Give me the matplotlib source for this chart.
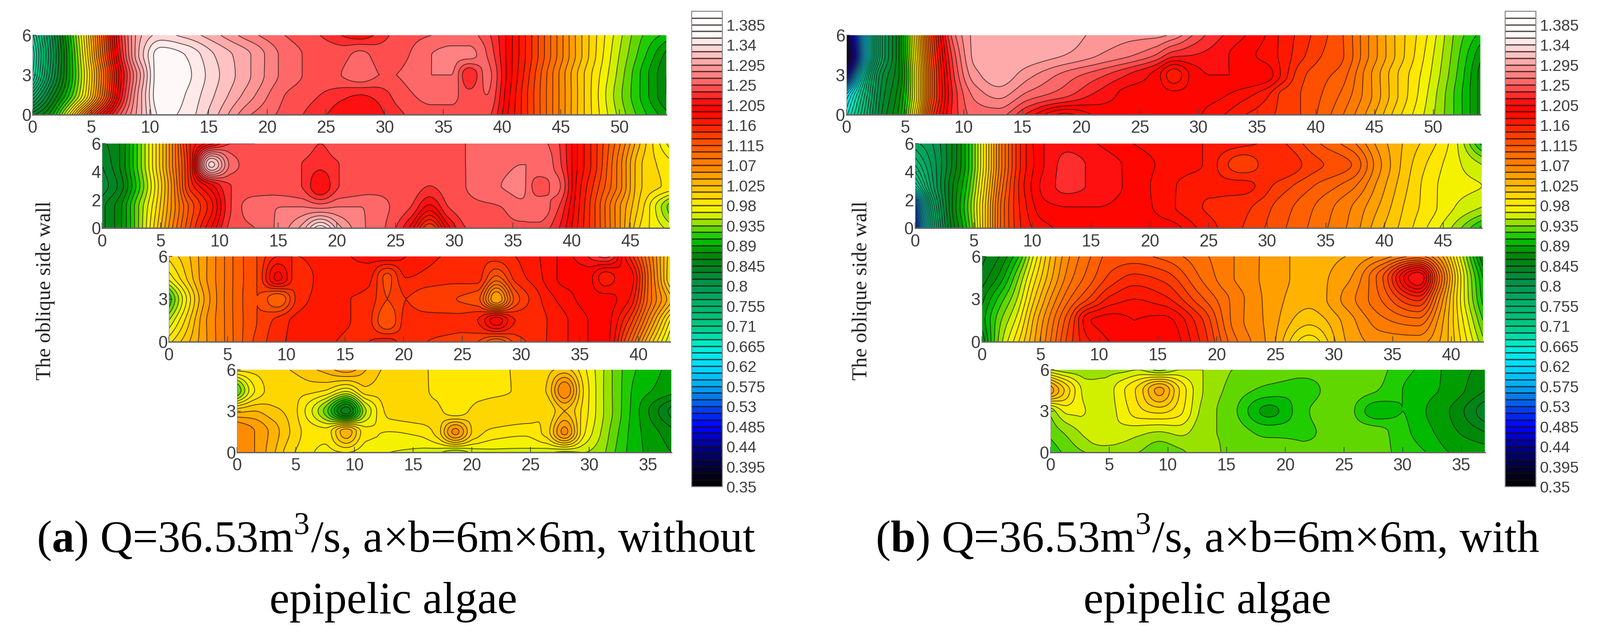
import numpy as np
import matplotlib
matplotlib.use('Agg')
import matplotlib.pyplot as plt
from matplotlib.colors import LinearSegmentedColormap

W, H = 3544, 1411

plt.rcParams['mathtext.fontset'] = 'custom'
plt.rcParams['mathtext.rm'] = 'Liberation Serif'
plt.rcParams['mathtext.bf'] = 'Liberation Serif:bold'

# stations across the channel, top of picture first
y_st = [6, 4.5, 3, 1.5, 0]

# stations along the walls, closer together where the rings are narrow
x_r1 = [0, 1.5, 3, 4.5, 6, 7.5, 9.3, 11, 13, 15.5, 18.6, 21.5, 24.5, 26.3, 27.9, 29.5, 31, 34, 35.7, 37.2, 38.7, 40.5, 42, 44.5, 47, 49.5, 52, 54]
x_a2 = [0, 1.5, 3, 4.5, 6, 7.5, 9.3, 11, 13, 15.5, 17, 18.6, 20.2, 22, 24.5, 26.3, 27.9, 29.5, 31, 34, 35.7, 37.2, 38.7, 40.5, 42, 44, 46, 48.3]
x_a3 = [0, 1.5, 3, 4.5, 6, 7.5, 9.3, 11, 13, 15.5, 17, 18.6, 20.2, 22, 24.5, 26.3, 27.9, 29.5, 31, 34, 35.7, 37.2, 39, 41, 42.7]
x_a4 = [0, 1.5, 3, 4.5, 6, 7.5, 9.3, 11, 13, 15.5, 17, 18.6, 20.2, 22, 24.5, 26.3, 27.9, 29.5, 31, 32.5, 34, 37]
x_b2 = [0, 1.5, 3, 4.5, 6, 7.5, 9.3, 11, 13, 15.5, 18.6, 21.5, 24.5, 27.9, 31, 34, 37.2, 39.5, 42, 44, 46, 48.3]
x_b3 = [0, 1.5, 3, 4.5, 6, 7.5, 9.3, 11, 13, 15.5, 18.6, 21.5, 24.5, 27.9, 31, 34, 37.2, 39, 41, 42.7]
x_b4 = [0, 1.5, 3, 4.5, 6, 7.5, 9.3, 11, 13, 15.5, 18.6, 21.5, 24.5, 27.9, 30, 32, 34, 37]

# (a) without epipelic algae
a1 = [
    [.69, .79, .89, .99, 1.11, 1.23, 1.31, 1.33, 1.32, 1.30, 1.27, 1.25, 1.235, 1.22, 1.21, 1.225, 1.24, 1.25, 1.255, 1.255, 1.24, 1.20, 1.16, 1.09, 1.02, .965, .92, .90],
    [.67, .78, .88, .98, 1.10, 1.22, 1.32, 1.365, 1.355, 1.325, 1.295, 1.26, 1.245, 1.245, 1.255, 1.245, 1.245, 1.265, 1.27, 1.27, 1.25, 1.20, 1.16, 1.09, 1.02, .96, .91, .87],
    [.68, .79, .88, .97, 1.08, 1.20, 1.30, 1.37, 1.36, 1.33, 1.295, 1.26, 1.245, 1.25, 1.26, 1.25, 1.25, 1.265, 1.265, 1.22, 1.255, 1.20, 1.155, 1.08, 1.01, .955, .90, .86],
    [.75, .83, .90, .98, 1.09, 1.21, 1.31, 1.37, 1.355, 1.325, 1.285, 1.25, 1.235, 1.225, 1.22, 1.225, 1.24, 1.255, 1.255, 1.24, 1.25, 1.195, 1.15, 1.08, 1.01, .95, .90, .86],
    [.84, .88, .97, 1.08, 1.18, 1.25, 1.31, 1.36, 1.35, 1.315, 1.265, 1.245, 1.225, 1.21, 1.205, 1.215, 1.23, 1.245, 1.245, 1.245, 1.24, 1.19, 1.15, 1.08, 1.01, .955, .91, .88],
]
a2 = [
    [.84, .86, .92, .99, 1.07, 1.16, 1.20, 1.235, 1.235, 1.245, 1.245, 1.235, 1.245, 1.245, 1.25, 1.25, 1.25, 1.25, 1.25, 1.255, 1.255, 1.255, 1.24, 1.19, 1.15, 1.09, 1.02, .96],
    [.83, .86, .92, .99, 1.07, 1.16, 1.33, 1.26, 1.24, 1.24, 1.235, 1.225, 1.235, 1.24, 1.245, 1.25, 1.25, 1.25, 1.25, 1.26, 1.265, 1.265, 1.245, 1.19, 1.15, 1.08, 1.01, .985],
    [.82, .85, .91, .98, 1.06, 1.15, 1.20, 1.235, 1.24, 1.24, 1.235, 1.205, 1.235, 1.24, 1.245, 1.245, 1.235, 1.245, 1.25, 1.265, 1.27, 1.24, 1.255, 1.185, 1.14, 1.08, 1.01, .99],
    [.84, .87, .93, .99, 1.06, 1.12, 1.17, 1.235, 1.26, 1.265, 1.265, 1.26, 1.265, 1.265, 1.25, 1.235, 1.20, 1.235, 1.245, 1.25, 1.26, 1.26, 1.24, 1.18, 1.13, 1.06, 1.00, .93],
    [.84, .87, .93, 1.00, 1.07, 1.13, 1.19, 1.24, 1.25, 1.275, 1.30, 1.35, 1.30, 1.27, 1.245, 1.20, 1.13, 1.20, 1.235, 1.245, 1.245, 1.245, 1.225, 1.175, 1.13, 1.06, .99, .96],
]
a3 = [
    [1.00, 1.02, 1.05, 1.08, 1.11, 1.13, 1.16, 1.16, 1.17, 1.175, 1.18, 1.19, 1.175, 1.165, 1.155, 1.15, 1.155, 1.16, 1.17, 1.20, 1.22, 1.24, 1.17, 1.08, 1.00],
    [.97, 1.01, 1.05, 1.08, 1.11, 1.13, 1.195, 1.15, 1.165, 1.17, 1.165, 1.125, 1.16, 1.155, 1.15, 1.15, 1.11, 1.15, 1.165, 1.195, 1.195, 1.165, 1.19, 1.09, .995],
    [.91, .98, 1.04, 1.08, 1.11, 1.13, 1.10, 1.15, 1.165, 1.16, 1.155, 1.13, 1.145, 1.135, 1.13, 1.12, 1.04, 1.12, 1.15, 1.185, 1.195, 1.195, 1.18, 1.09, 1.03],
    [.95, 1.00, 1.05, 1.08, 1.11, 1.13, 1.15, 1.165, 1.17, 1.16, 1.15, 1.115, 1.15, 1.15, 1.15, 1.16, 1.20, 1.16, 1.155, 1.175, 1.19, 1.195, 1.15, 1.06, .98],
    [.99, 1.02, 1.05, 1.08, 1.11, 1.135, 1.155, 1.165, 1.165, 1.155, 1.16, 1.17, 1.15, 1.145, 1.14, 1.13, 1.10, 1.135, 1.15, 1.175, 1.19, 1.195, 1.12, 1.02, .95],
]
a4 = [
    [1.00, 1.00, 1.005, 1.01, 1.02, 1.03, 1.05, 1.025, 1.005, 1.00, .99, .985, .985, .99, 1.00, 1.005, 1.015, .985, .955, .925, .905, .885],
    [.92, .98, 1.00, 1.00, 1.00, .995, .97, 1.005, 1.00, 1.00, .99, .985, .985, .99, 1.00, 1.01, 1.07, .995, .955, .925, .90, .88],
    [1.02, 1.025, 1.015, 1.005, .975, .93, .85, .95, 1.00, 1.005, 1.00, .985, 1.00, 1.01, 1.005, .995, 1.025, .99, .955, .925, .895, .84],
    [1.07, 1.055, 1.035, 1.01, .99, .985, 1.035, .985, .98, .985, 1.00, 1.06, 1.005, .99, .985, 1.00, 1.06, .985, .95, .92, .895, .865],
    [1.07, 1.055, 1.03, 1.00, .985, .975, .98, .97, .965, .96, .955, .935, .955, .96, .96, .955, .945, .95, .94, .915, .895, .875],
]

# (b) with epipelic algae
b1 = [
    [.40, .60, .78, .86, 1.00, 1.15, 1.265, 1.30, 1.31, 1.31, 1.305, 1.29, 1.285, 1.285, 1.275, 1.25, 1.23, 1.205, 1.19, 1.17, 1.155, 1.135, 1.12, 1.07, 1.02, .98, .93, .90],
    [.36, .60, .78, .86, .99, 1.14, 1.25, 1.30, 1.31, 1.305, 1.295, 1.28, 1.265, 1.25, 1.225, 1.22, 1.215, 1.195, 1.185, 1.17, 1.15, 1.13, 1.12, 1.07, 1.02, .975, .925, .88],
    [.47, .68, .81, .86, .98, 1.13, 1.24, 1.29, 1.305, 1.285, 1.26, 1.24, 1.215, 1.20, 1.165, 1.195, 1.205, 1.205, 1.20, 1.17, 1.135, 1.12, 1.11, 1.06, 1.01, .97, .92, .87],
    [.62, .72, .82, .87, .98, 1.13, 1.23, 1.27, 1.285, 1.26, 1.24, 1.215, 1.20, 1.20, 1.195, 1.195, 1.195, 1.18, 1.165, 1.14, 1.13, 1.115, 1.10, 1.06, 1.01, .965, .915, .87],
    [.66, .74, .83, .88, 1.00, 1.15, 1.23, 1.255, 1.255, 1.215, 1.17, 1.195, 1.205, 1.205, 1.205, 1.195, 1.185, 1.16, 1.15, 1.14, 1.13, 1.11, 1.09, 1.05, 1.00, .96, .915, .87],
]
b2 = [
    [.78, .80, .84, .90, .99, 1.09, 1.17, 1.205, 1.215, 1.205, 1.19, 1.18, 1.175, 1.165, 1.15, 1.12, 1.09, 1.05, 1.02, 1.00, .97, .90],
    [.74, .79, .84, .90, .99, 1.09, 1.17, 1.205, 1.225, 1.215, 1.20, 1.185, 1.175, 1.135, 1.16, 1.135, 1.115, 1.06, 1.015, .99, .97, .95],
    [.68, .78, .85, .91, 1.00, 1.10, 1.175, 1.21, 1.225, 1.215, 1.20, 1.18, 1.165, 1.165, 1.14, 1.115, 1.09, 1.05, 1.01, .985, .97, .965],
    [.52, .74, .85, .92, 1.01, 1.11, 1.17, 1.20, 1.205, 1.205, 1.20, 1.18, 1.16, 1.15, 1.125, 1.10, 1.07, 1.04, 1.005, .985, .965, .95],
    [.50, .72, .84, .91, 1.01, 1.11, 1.165, 1.185, 1.195, 1.20, 1.205, 1.20, 1.17, 1.145, 1.12, 1.095, 1.065, 1.03, 1.00, .975, .945, .90],
]
b3 = [
    [.84, .86, .90, .97, 1.03, 1.07, 1.10, 1.12, 1.12, 1.11, 1.09, 1.07, 1.05, 1.035, 1.04, 1.06, 1.09, 1.05, .95, .86],
    [.85, .88, .93, .99, 1.04, 1.08, 1.11, 1.135, 1.15, 1.14, 1.10, 1.07, 1.05, 1.035, 1.05, 1.11, 1.22, 1.10, .97, .89],
    [.87, .91, .95, 1.01, 1.06, 1.10, 1.135, 1.165, 1.175, 1.165, 1.12, 1.08, 1.05, 1.03, 1.06, 1.10, 1.15, 1.07, .97, .90],
    [.88, .93, .97, 1.03, 1.08, 1.13, 1.19, 1.195, 1.19, 1.195, 1.15, 1.08, 1.05, 1.015, 1.045, 1.08, 1.095, 1.05, .98, .92],
    [.86, .94, .99, 1.04, 1.09, 1.14, 1.175, 1.19, 1.19, 1.205, 1.16, 1.09, 1.05, .985, 1.04, 1.06, 1.06, 1.04, .99, .94],
]
b4 = [
    [.95, .94, .94, .945, .945, .95, .93, .95, .95, .935, .93, .93, .93, .925, .91, .90, .885, .87],
    [1.05, 1.00, .96, .955, .975, 1.00, 1.045, .995, .95, .93, .915, .91, .93, .92, .905, .895, .885, .86],
    [.94, .97, .965, .955, .97, .99, 1.00, .985, .945, .925, .885, .915, .935, .895, .905, .89, .875, .835],
    [.925, .94, .955, .965, .96, .955, .95, .955, .94, .93, .915, .915, .93, .925, .91, .895, .88, .86],
    [.91, .925, .935, .94, .94, .935, .92, .93, .945, .93, .93, .93, .93, .925, .915, .905, .89, .885],
]

# colour bar of the figure: value and colour
cmap_vals = [.35, .38, .43, .485, .53, .575, .62, .665, .71, .755, .80, .845, .875, .905, .935, .965, .98,
             1.025, 1.07, 1.115, 1.16, 1.205, 1.25, 1.28, 1.31, 1.345, 1.37, 1.415]
cmap_cols = ['#000000', '#000020', '#00007a', '#0000ff', '#0050e6', '#00aaf0', '#00dcff', '#00f0d2', '#00c882',
             '#00b46e', '#009650', '#00821e', '#008c00', '#00c800', '#82dc00', '#e6f500', '#fff000',
             '#ffbe00', '#ff8200', '#ff5a00', '#ff1e00', '#ff0000', '#ff5a5a', '#ff8c8c', '#ffb4b4', '#ffe6e6', '#ffffff', '#ffffff']
cbar_ticks = [.35, .395, .44, .485, .53, .575, .62, .665, .71, .755, .80, .845, .89, .935, .98,
              1.025, 1.07, 1.115, 1.16, 1.205, 1.25, 1.295, 1.34, 1.385]
cbar_labels = ['0.35', '0.395', '0.44', '0.485', '0.53', '0.575', '0.62', '0.665', '0.71', '0.755', '0.8', '0.845',
               '0.89', '0.935', '0.98', '1.025', '1.07', '1.115', '1.16', '1.205', '1.25', '1.295', '1.34', '1.385']

levels = np.arange(.35, 1.4151, .015)
span = cmap_vals[-1] - cmap_vals[0]
cmap = LinearSegmentedColormap.from_list('wall', [((v - .35) / span, c) for v, c in zip(cmap_vals, cmap_cols)], N=512)

LINE = (.12, .05, .05, .72)
TICK_TXT = '#3c3c3c'
SERIF = 'Liberation Serif'


def px_axes(fig, left, top, right, bottom):
    return fig.add_axes([left / W, 1 - bottom / H, (right - left) / W, (bottom - top) / H])


def smooth_1d(xs, v, xf):
    # monotone hermite between stations, so contours come out round and no overshoot
    xs = np.asarray(xs, dtype=float)
    h = np.diff(xs)
    d = np.diff(v) / h
    m = np.zeros(len(xs))
    for i in range(1, len(xs) - 1):
        if d[i - 1] * d[i] > 0:
            m[i] = 2 * d[i - 1] * d[i] / (d[i - 1] + d[i])
    m[0], m[-1] = d[0], d[-1]
    k = np.clip(np.searchsorted(xs, xf, side='right') - 1, 0, len(xs) - 2)
    t = (xf - xs[k]) / h[k]
    return ((2 * t**3 - 3 * t**2 + 1) * v[k] + (t**3 - 2 * t**2 + t) * h[k] * m[k]
            + (-2 * t**3 + 3 * t**2) * v[k + 1] + (t**3 - t**2) * h[k] * m[k + 1])


def fine_field(x, z):
    xf = np.linspace(x[0], x[-1], 600)
    yf = np.linspace(0, 6, 160)
    ys = np.array(y_st[::-1], dtype=float)
    zz = np.array(z, dtype=float)[::-1]
    along = np.array([smooth_1d(x, row, xf) for row in zz])
    field = np.array([smooth_1d(ys, col, yf) for col in along.T]).T
    return xf, yf, np.clip(field, .351, 1.414)


def wall_row(fig, box, x, z, yticks):
    ax = px_axes(fig, *box)
    xf, yf, zf = fine_field(x, z)
    cs = ax.contourf(xf, yf, zf, levels=levels, cmap=cmap, vmin=.35, vmax=1.415)
    ax.contour(xf, yf, zf, levels=levels, colors=[LINE], linewidths=1.3)
    ax.set_xlim(x[0], x[-1])
    ax.set_ylim(0, 6)
    ax.set_xticks(np.arange(0, x[-1], 5))
    ax.set_yticks(yticks)
    ax.tick_params(axis='x', direction='in', length=9, width=1.2, color='#444444', pad=9,
                   labelsize=27, labelcolor=TICK_TXT)
    ax.tick_params(axis='y', direction='in', length=6, width=1.2, color='#444444', pad=2,
                   labelsize=27, labelcolor=TICK_TXT)
    for lab in ax.get_xticklabels() + ax.get_yticklabels():
        lab.set_family('Liberation Sans')
    ax.spines['top'].set_visible(False)
    ax.spines['right'].set_visible(False)
    ax.spines['bottom'].set_color('#666666')
    ax.spines['bottom'].set_linewidth(2.2)
    ax.spines['left'].set_color('#888888')
    ax.spines['left'].set_linewidth(.8)
    return cs


def panel(fig, rows, bar_box, label_x, cap1, cap2, cap1_x, cap2_x):
    tops = [(78, 254), (318, 505), (568, 757), (819, 1002)]
    yticks = [[0, 3, 6], [0, 2, 4, 6], [0, 3, 6], [0, 3, 6]]
    cs = None
    for (left, x, z), (top, bot), yt in zip(rows, tops, yticks):
        right = left + x[-1] * 26.0
        cs = wall_row(fig, (left, top, right, bot), x, z, yt)

    cax = px_axes(fig, *bar_box)
    cb = fig.colorbar(cs, cax=cax, ticks=cbar_ticks, drawedges=True)
    cb.ax.set_yticklabels(cbar_labels, family='Liberation Sans', fontsize=25, color=TICK_TXT)
    cb.ax.tick_params(length=0, pad=6)
    cb.dividers.set_color((.1, .05, .05, .7))
    cb.dividers.set_linewidth(2.2)
    cb.outline.set_edgecolor('#888888')
    cb.outline.set_linewidth(1.6)

    fig.text(label_x / W, 1 - 644 / H, 'The oblique side wall', rotation=90, ha='center', va='center',
             family=SERIF, fontsize=33, color='#222222')
    fig.text(cap1_x / W, 1 - 1190 / H, cap1, ha='center', va='center', family=SERIF, fontsize=71.5, color='black')
    fig.text(cap2_x / W, 1 - 1334 / H, cap2, ha='center', va='center', family=SERIF, fontsize=71.5, color='black')


fig = plt.figure(figsize=(W / 100, H / 100), dpi=100, facecolor='white')

panel(fig, [(72, x_r1, a1), (226, x_a2, a2), (374, x_a3, a3), (525, x_a4, a4)], (1532, 25, 1600, 1078), 101,
      r'($\mathbf{a}$) Q=36.53m$^{3}$/s, a×b=6m×6m, without', 'epipelic algae', 877, 871)
panel(fig, [(1874.5, x_r1, b1), (2026.5, x_b2, b2), (2174.5, x_b3, b3), (2326.5, x_b4, b4)], (3334, 25, 3402, 1078), 1909,
      r'($\mathbf{b}$) Q=36.53m$^{3}$/s, a×b=6m×6m, with', 'epipelic algae', 2674, 2674)

fig.savefig('out.png', dpi=100)
